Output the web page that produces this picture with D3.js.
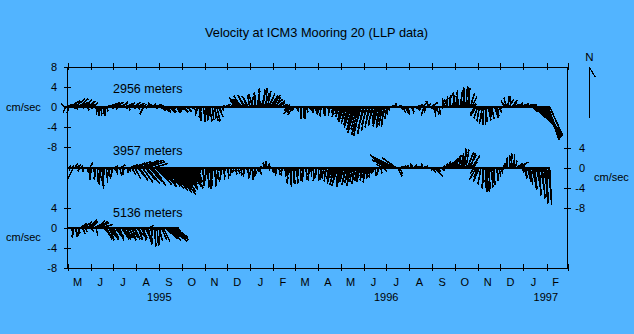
<!DOCTYPE html>
<html><head><meta charset="utf-8">
<script src="https://cdn.jsdelivr.net/npm/d3@7"></script>
<style>
html,body{margin:0;padding:0;background:#52b4ff;}
svg{display:block;}
text{font-family:"Liberation Sans",Arial,sans-serif;fill:#000;}
</style></head><body><svg id="c" width="634" height="334"></svg>
<script>
const titleText = "Velocity at ICM3 Mooring 20 (LLP data)";
const depthLabels = ["2956 meters","3957 meters","5136 meters"];
const monthLabels = ["M","J","J","A","S","O","N","D","J","F","M","A","M","J","J","A","S","O","N","D","J","F"];
const yearLabels = ["1995","1996","1997"];
const yearDates = ["1995-09-01","1996-07-01","1997-01-31"];
const leftTicks1 = [8,4,0,-4,-8];
const leftTicks3 = [4,0,-4,-8];
const rightTicks2 = [4,0,-4,-8];
const stepDays = 2;
const starts = ["1995-04-27","1995-05-01","1995-05-01"];
const northStick = [0, 10];

// 2956 m
const u1 = [
-0.8,-0.6,1.0,-0.4,1.2,
1.6,0.3,2.0,1.2,-0.2,1.8,1.5,0.4,1.7,1.0,0.5,1.4,0.8,0.2,1.1,0.5,
0.2,-0.2,0.1,0.3,-0.1,0.2,0.0,0.4,
1.2,1.5,0.6,1.6,1.0,0.4,1.4,0.8,0.5,1.3,1.1,0.7,1.5,1.2,0.3,1.0,1.4,0.5,1.2,1.6,0.4,1.1,0.6,0.9,-0.8,
0.4,1.0,0.2,1.2,0.5,0.7,1.4,0.3,0.9,1.1,
0.3,0.8,1.2,0.2,1.0,0.6,1.3,0.5,0.9,0.4,1.4,0.7,1.1,0.3,0.8,1.2,0.5,0.9,1.0,0.2,0.6,1.1,0.4,0.7,
0.3,-0.4,0.5,0.2,-0.6,0.4,0.8,-0.3,0.1,0.6,-0.5,0.3,0.9,0.2,0.7,1.0,0.4,0.6,
0.5,0.2,0.8,0.6,0.3,1.0,0.4,0.9,-0.4,-0.8,
-1.6,-2.0,-1.4,-1.8,-1.0,-1.5,-0.6,-1.2,-0.4,0.5,-0.8,0.3,-0.3,0.6,0.2,-0.2,0.8,0.4,1.0,0.2,0.7,1.2,1.5,0.9,1.3,1.6,0.8,1.4,1.2,0.6,1.0,0.5,
0.4,0.6,-0.8,-1.2,-0.9,-1.0,-0.5,0.3,0.2,-0.2,0.1,-0.2,0.2,0.0,0.4,0.6,0.8,0.5,0.3,0.9,0.2,0.4,-0.3,
0.2,-0.3,0.4,0.0,-0.2,0.3,0.1,-0.4,0.2,-0.3,-0.5,
-0.3,-0.5,-0.7,-0.4,-0.9,-1.0,-0.6,-1.1,-0.8,-1.2,-1.4,-1.0,-1.5,-1.6,-1.2,-1.4,-1.3,-1.6,-1.1,-1.3,-0.9,-1.2,-0.8,-1.0,-0.7,-0.9,-0.5,-0.8,-1.0,-0.6,-0.9,-0.7,-0.5,-0.8,-0.4,-0.3,-0.2,
0.4,0.3,-0.2,0.0,0.5,0.6,
0.5,0.8,0.3,0.9,0.6,0.4,-0.5,0.7,0.3,0.5,1.0,0.2,0.4,
0.6,-0.4,1.0,-0.6,-0.3,0.8,-0.6,0.4,1.2,0.5,0.2,0.6,-0.4,0.3,0.5,
0.5,-0.3,-0.6,0.2,-0.8,0.3,-0.4,0.5,-0.2,0.4,0.1,-0.3,0.6,0.0,0.2,-0.2,0.3,0.5,-0.1,0.8,1.0,0.6,-1.0,-1.2,
-0.8,-0.5,0.3,-0.6,-0.2,0.4,-0.3,0.5,0.2,0.6,-0.4,0.8,0.5,0.3,0.6,0.2,0.4,
0.5,-0.8,-0.5,0.3,0.9,-0.2,1.0,0.6,
0.8,1.2,1.6,0.6,1.4,1.8,1.0,1.5,2.0,1.2,0.8,
1.2,2.4,3.6,4.6,4.2,3.2,3.8,4.0,3.0,3.0,2.8,2.2,2.6];
const v1 = [
0.6,-1.2,0.4,-1.4,0.8,
1.2,-0.5,1.5,0.4,-0.6,1.6,0.9,-0.4,1.4,0.6,-0.8,1.1,0.5,-0.5,0.8,-0.3,
-1.2,-1.7,-1.9,-1.5,-1.8,-1.6,-1.8,-1.0,
0.3,0.6,-0.4,0.8,0.5,-0.6,0.9,0.2,-0.3,0.7,1.0,-0.5,0.6,0.4,-0.8,0.8,0.3,-0.4,0.9,0.5,-0.6,0.7,-0.3,0.4,-1.6,
-0.3,0.4,0.8,0.2,-0.2,0.6,0.3,-0.5,0.5,0.1,
-0.4,-0.8,-1.0,-0.3,-1.2,-0.9,-1.3,-0.6,-1.1,-0.5,-0.9,-1.3,-0.7,-1.0,-0.4,-1.2,-0.8,-0.5,-1.1,-0.6,-0.3,-0.9,-0.5,-0.2,
-1.0,-1.8,-2.4,-2.9,-2.2,-3.1,-2.6,-2.0,-2.8,-3.0,-2.3,-2.7,-2.9,-2.4,-3.0,-2.1,-1.4,-0.8,
0.2,-0.3,0.3,0.5,-0.2,0.4,0.6,0.3,0.8,1.0,
1.2,1.8,2.2,1.5,2.0,2.3,1.7,2.1,2.4,2.0,2.6,2.2,2.8,3.2,2.5,3.6,3.0,3.4,2.7,3.7,3.1,2.6,2.2,1.8,2.3,1.5,1.9,1.2,0.8,1.0,0.5,0.3,
-0.2,0.3,-0.8,-1.5,-1.2,-1.7,-0.9,-0.5,-0.3,-1.0,-2.2,-2.5,-2.3,-2.4,-1.2,-0.6,-1.0,-1.3,-0.8,-1.4,-0.5,-1.1,-1.6,
-1.2,-2.0,-0.8,-1.5,-1.9,-0.6,-1.3,-1.8,-0.9,-1.4,-2.1,
-0.8,-1.5,-2.2,-1.8,-2.8,-3.2,-2.5,-3.4,-3.0,-3.8,-4.2,-3.6,-4.8,-5.4,-4.6,-5.8,-6.0,-5.2,-5.6,-4.4,-4.9,-3.8,-4.2,-3.5,-3.9,-3.0,-2.6,-3.4,-4.0,-3.6,-4.3,-3.8,-4.1,-3.2,-2.5,-1.6,-0.8,
0.1,-0.2,0.3,0.8,-0.1,0.2,
-0.6,-1.2,-0.4,-1.5,-0.9,-1.6,-0.5,-1.1,-1.4,-0.3,-0.8,-0.4,0.2,
0.4,-0.8,1.0,-1.8,-1.2,0.6,1.1,-0.5,0.8,-1.4,-2.0,-1.6,-0.9,-1.7,-0.4,
0.3,0.8,1.6,2.0,1.4,2.3,1.8,2.2,2.8,2.4,3.2,2.9,3.3,3.0,3.8,3.5,4.0,3.7,3.9,2.6,2.0,0.6,-1.6,-1.9,
-2.4,-3.0,-2.6,-3.5,-3.7,-3.2,-3.6,-2.8,-2.2,-2.6,-1.8,-2.3,-1.5,-2.0,-1.2,-0.6,-0.2,
0.6,1.2,1.8,2.1,1.5,2.0,1.3,0.8,
0.4,0.6,0.3,0.8,0.5,0.2,0.6,0.4,0.3,0.5,0.2,
-1.0,-2.2,-3.4,-4.6,-5.0,-4.2,-5.6,-6.0,-5.2,-6.4,-6.0,-6.7,-5.8];

// 3957 m
const u2 = [
0.2,0.5,-0.3,0.4,-1.2,
0.6,0.9,0.2,-0.3,0.4,0.2,-0.4,0.5,0.3,
0.4,0.6,-0.3,0.5,
0.3,-0.4,0.2,0.6,-0.3,0.4,0.0,-0.5,0.3,0.6,-0.2,
0.3,-0.2,0.5,0.6,0.2,-0.4,0.4,0.8,0.1,-0.3,0.6,0.2,
0.4,1.6,0.8,2.4,1.2,3.0,1.4,1.8,3.6,2.2,4.0,2.0,2.6,3.4,2.4,3.0,1.8,2.8,3.2,2.4,3.6,2.8,
2.8,2.0,3.2,3.6,2.6,3.8,3.0,4.0,3.4,4.2,3.0,3.6,2.8,3.4,2.2,2.8,2.4,2.0,2.6,1.8,2.4,1.6,1.2,
0.8,1.0,0.4,-0.3,0.6,0.2,0.9,-0.4,0.3,0.7,0.0,-0.2,0.5,0.2,0.6,-0.3,
0.3,-0.2,0.5,0.1,-0.4,0.4,0.0,0.6,-0.3,0.2,0.5,
0.2,0.5,-0.2,0.3,0.6,0.0,-0.4,0.4,0.2,0.7,-0.3,0.1,0.5,-0.2,0.3,0.6,0.2,-0.2,
0.3,-0.3,0.0,0.5,0.2,-0.4,0.3,
0.2,0.4,-0.2,0.5,0.0,0.3,-0.3,0.4,0.1,
0.2,-0.3,0.3,0.0,0.5,-0.2,0.4,0.1,-0.3,0.2,
0.3,-0.2,0.5,0.0,0.4,-0.3,0.2,0.6,-0.1,0.3,-0.4,0.2,0.5,-0.2,0.3,-0.5,-0.3,-0.6,-0.4,
-0.6,-0.9,-0.5,-1.0,-0.7,-1.2,-0.6,-0.9,-1.1,-0.8,-0.4,-1.0,-0.7,-0.5,-0.9,-0.6,-0.3,-0.8,-0.5,
-0.5,-0.7,-0.3,-0.6,-0.4,-0.6,-0.2,-0.5,-0.3,-0.2,
-0.2,0.3,0.5,-0.2,0.4,0.2,-1.2,0.6,-2.0,-1.0,-3.0,-3.6,-4.0,-4.6,-3.2,-2.8,1.0,0.8,
0.5,0.3,0.6,0.8,0.4,0.0,0.7,0.1,0.5,0.6,0.9,-0.1,0.4,0.7,0.2,0.8,0.3,0.6,0.1,0.5,0.4,0.8,0.3,1.6,0.6,0.4,0.2,
0.8,0.4,0.3,0.6,0.9,
1.0,1.4,0.8,1.2,0.6,0.9,1.3,0.5,1.0,0.4,0.8,0.3,0.6,1.2,1.5,1.0,1.6,0.8,
-1.0,-1.4,-0.8,-1.2,-0.6,0.3,-0.4,0.2,0.0,0.4,-0.2,0.3,0.5,-0.1,0.6,0.2,0.4,0.5,0.3,
0.2,0.0,0.3,-0.2,0.1,0.3,-0.3,0.2,0.4,1.2,
1.2,1.7,0.8,
0.2,0.4,0.3,0.6,0.4,0.5,0.8,0.6,0.5,0.9,0.7,0.4,0.8,0.6,0.9,0.5,0.3,0.7,0.4];
const v2 = [
-0.3,0.4,-0.6,0.3,-2.4,
0.8,0.5,-0.4,-0.8,0.3,-1.0,-0.6,-0.3,-0.9,
-2.5,1.0,-2.2,-1.6,
-1.8,-2.4,-3.0,-2.6,-3.4,-3.8,-4.2,-3.6,-3.0,-2.2,-1.6,
-1.2,-1.8,-0.6,0.4,-1.4,-1.0,-1.7,0.5,-0.8,-1.5,-0.6,-1.1,
-0.8,0.6,-1.4,0.9,-2.2,1.2,-1.8,-2.6,1.4,-3.0,1.5,-2.4,-3.2,1.2,-2.8,-3.6,-2.2,0.8,-3.4,-2.6,-3.8,-3.0,
-3.2,-2.4,-3.8,-4.2,-3.0,-4.6,-3.6,-5.0,-4.4,-5.4,-4.0,-4.8,-3.6,-4.4,-3.2,-4.0,-3.4,-2.8,-3.8,-3.0,-4.2,-3.6,-2.6,
-2.2,-3.0,-3.6,-2.6,-3.2,-3.8,-2.8,-3.4,-4.0,-3.6,-4.2,-4.0,-3.2,-3.8,-2.8,-2.2,
-1.6,-2.4,-2.0,-2.6,-1.2,-1.8,-2.2,-1.0,-1.6,-0.8,-1.4,
-0.8,-1.2,-0.4,-1.6,-1.0,-0.6,-1.8,-1.3,-2.2,-0.9,-1.6,-2.5,-1.2,-2.0,-0.8,-1.4,-0.4,0.3,
0.6,1.0,1.4,0.8,-0.6,0.5,-1.0,
-1.2,-0.6,-1.8,-0.9,-1.4,-0.4,-1.6,-1.0,-1.8,
-2.4,-3.2,-3.6,-3.8,-3.4,-3.0,-2.6,-3.2,-2.2,-2.8,
-2.0,-2.8,-1.6,-2.4,-1.2,-2.6,-1.8,-2.2,-2.8,-1.4,-2.0,-2.6,-1.8,-2.4,-1.0,-2.2,-2.8,-1.6,-2.4,
-2.6,-3.2,-2.2,-3.6,-3.0,-3.8,-2.8,-3.4,-3.9,-3.0,-2.4,-3.6,-3.2,-2.6,-3.8,-3.0,-2.2,-3.4,-2.8,
-2.4,-3.0,-1.8,-2.6,-2.2,-3.0,-1.6,-2.4,-2.0,-1.2,
-1.2,-1.8,-0.8,-1.5,-0.4,-1.2,0.6,-0.8,1.2,0.4,1.8,1.5,2.2,2.5,1.6,2.0,-1.8,-1.2,
0.2,-0.3,0.4,0.1,-0.2,0.6,0.3,0.8,-0.2,0.5,0.2,0.7,-0.3,0.4,0.8,0.1,0.3,-0.2,0.5,0.0,-0.6,-1.0,-0.4,-1.8,-1.1,-0.5,-0.9,
-0.6,-0.3,0.4,0.8,1.2,
1.0,1.6,1.2,1.9,1.5,2.2,1.8,2.5,2.2,2.8,3.2,3.8,3.6,3.0,2.6,3.0,2.4,1.2,
-1.2,-2.4,-2.0,-2.8,-3.4,-3.0,-4.2,-4.6,-4.9,-4.4,-4.8,-4.0,-3.6,-3.2,-2.4,-2.8,-1.8,-1.2,-0.6,
0.4,1.0,1.6,2.0,2.4,2.8,2.2,2.6,1.4,0.8,
0.5,1.1,0.3,
-1.0,-1.6,-2.2,-2.0,-2.8,-3.4,-3.0,-4.0,-4.4,-3.8,-5.0,-5.6,-4.8,-6.2,-5.4,-6.8,-7.2,-6.4,-7.6];

// 5136 m
const u3 = [
0.2,-0.3,0.4,
0.2,-0.3,0.4,0.1,0.5,-0.2,
1.2,0.6,1.6,0.4,1.0,1.4,0.8,
1.4,0.8,1.8,0.4,1.6,2.0,1.4,2.2,
1.6,1.4,1.2,1.8,1.0,1.5,1.3,0.9,1.6,1.4,1.1,0.8,1.5,1.7,1.0,1.3,0.7,1.2,1.6,0.9,1.4,1.1,1.8,1.0,0.6,1.3,0.9,0.5,1.2,0.8,
0.6,0.8,0.2,-0.3,0.4,0.0,0.3,0.8,-0.2,1.0,1.4,
2.6,3.0,2.4,3.2,3.4,2.8,3.0,2.6,2.2,1.0];
const v3 = [
0.0,-0.4,-0.8,
-1.6,-2.0,-1.4,-1.9,-1.2,-1.7,
0.8,-1.4,1.1,-1.0,0.6,1.2,-0.8,
1.2,1.6,0.9,-1.6,1.4,1.0,1.3,0.6,
-1.6,-2.2,-2.4,-2.0,-2.6,-2.3,-2.1,-2.5,-2.2,-1.9,-2.4,-2.6,-2.2,-2.0,-2.4,-2.1,-2.5,-2.3,-2.0,-2.6,-2.2,-2.4,-1.8,-2.3,-2.5,-2.1,-2.4,-2.6,-2.2,-2.5,
-2.8,0.4,-3.4,-3.0,-3.8,-3.2,-3.7,-2.6,-3.4,-2.4,-2.8,
-2.2,-2.6,-2.0,-2.4,-2.8,-2.2,-2.5,-2.0,-2.3,-1.8];

const seriesU = [u1,u2,u3], seriesV = [v1,v2,v3];
const parse = d3.timeParse("%Y-%m-%d");
const svg = d3.select("#c");
const FONT = '"Liberation Sans", Arial, sans-serif';

const x = d3.scaleTime().domain([new Date(1995,4,1), new Date(1997,2,1)]).range([67.5, 567.5]);
const baseY = [106.5, 167.5, 227.5];
const ys = baseY.map(b => d3.scaleLinear().domain([-8,8]).range([b+40, b-40]));
const fmt = d => d < 0 ? "-" + (-d) : String(d);

// title
svg.append("text").attr("x",316.5).attr("y",37.3).attr("text-anchor","middle")
  .attr("font-size","12.8px").text(titleText);

// sticks
ys.forEach((y, s) => {
  const s0 = parse(starts[s]);
  const data = d3.zip(seriesU[s], seriesV[s]).map(([u,v],i) => ({d: d3.timeDay.offset(s0, i*stepDays), u, v}));
  const g = svg.append("g").attr("stroke","#000").attr("shape-rendering","crispEdges");
  g.selectAll("line").data(data).join("line")
    .attr("stroke-width",1.6)
    .attr("x1", d => x(d.d)).attr("y1", y(0))
    .attr("x2", d => x(d.d) + (y(0) - y(d.u))).attr("y2", d => y(d.v));
  g.append("line").attr("stroke-width",2)
    .attr("x1", x(data[0].d)).attr("x2", x(data[data.length-1].d))
    .attr("y1", y(0)).attr("y2", y(0));
});

// axes
function styleAxis(g){ g.attr("font-family",FONT).attr("font-size",11); g.selectAll("text").attr("fill","#000"); g.selectAll("path,line").attr("stroke","#000").attr("shape-rendering","crispEdges"); }
const monthTicks = d3.timeMonth.every(1);
const topAx = svg.append("g").attr("transform",`translate(0,${ys[0](8)})`)
  .call(d3.axisTop(x).ticks(monthTicks).tickFormat("").tickSizeInner(3.5).tickSizeOuter(0));
topAx.selectAll(".tick line").attr("y1",3.5);
styleAxis(topAx);
const botAx = svg.append("g").attr("transform",`translate(0,${ys[2](-8)})`)
  .call(d3.axisBottom(x).ticks(monthTicks).tickFormat("").tickSizeInner(3.5).tickSizeOuter(0));
botAx.selectAll(".tick line").attr("y1",-3.5);
styleAxis(botAx);

[[ys[0], leftTicks1],[ys[2], leftTicks3]].forEach(([y,t]) => {
  const g = svg.append("g").attr("transform",`translate(${x.range()[0]},0)`)
    .call(d3.axisLeft(y).tickValues(t).tickFormat(fmt).tickSize(3.5).tickPadding(7));
  g.select(".domain").remove();
  g.selectAll(".tick line").attr("x1",3.5);
  styleAxis(g);
});
const rg = svg.append("g").attr("transform",`translate(${x.range()[1]},0)`)
  .call(d3.axisRight(ys[1]).tickValues(rightTicks2).tickFormat(fmt).tickSize(3.5).tickPadding(14));
rg.select(".domain").remove();
rg.selectAll(".tick line").attr("x1",-3.5);
rg.selectAll(".tick text").attr("text-anchor","end").attr("x",17.5);
styleAxis(rg);

[x.range()[0], x.range()[1]].forEach(px => {
  svg.append("line").attr("x1",px).attr("x2",px).attr("y1",ys[0](8)).attr("y2",ys[2](-8))
    .attr("stroke","#000").attr("shape-rendering","crispEdges");
});

// month labels
const months = d3.timeMonth.range(x.domain()[0], x.domain()[1]);
svg.append("g").selectAll("text").data(months).join("text")
  .attr("x", (m) => (x(m) + x(d3.timeMonth.offset(m,1)))/2 - 1.5)
  .attr("y", 286).attr("text-anchor","middle").attr("font-size","11px")
  .text((m,i) => monthLabels[i]);
svg.append("g").selectAll("text").data(yearLabels).join("text")
  .attr("x", (d,i) => x(parse(yearDates[i]))).attr("y", 301)
  .attr("text-anchor","middle").attr("font-size","11px").text(d => d);

// depth labels
const depthY = [93.3, 155, 216.7];
depthLabels.forEach((t,i) => svg.append("text").attr("x",113).attr("y",depthY[i]).attr("font-size","12.5px").text(t));

// unit labels
svg.append("text").attr("x",6).attr("y",110.5).attr("font-size","11px").text("cm/sec");
svg.append("text").attr("x",6).attr("y",240.5).attr("font-size","11px").text("cm/sec");
svg.append("text").attr("x",594).attr("y",180.5).attr("font-size","11px").text("cm/sec");

// north arrow
const nx = 589.5, ny = 117.5, ns = ys[0](0) - ys[0](1);
svg.append("line").attr("x1",nx).attr("y1",ny).attr("x2",nx + northStick[0]*ns).attr("y2",ny - northStick[1]*ns)
  .attr("stroke","#000").attr("stroke-width",1.3).attr("shape-rendering","crispEdges");
svg.append("line").attr("x1",nx).attr("y1",ny - northStick[1]*ns).attr("x2",nx+6).attr("y2",ny - northStick[1]*ns + 10)
  .attr("stroke","#000").attr("stroke-width",1.3).attr("shape-rendering","crispEdges");
svg.append("text").attr("x",nx).attr("y",60.7).attr("text-anchor","middle").attr("font-size","11.5px").text("N");
</script></body></html>
